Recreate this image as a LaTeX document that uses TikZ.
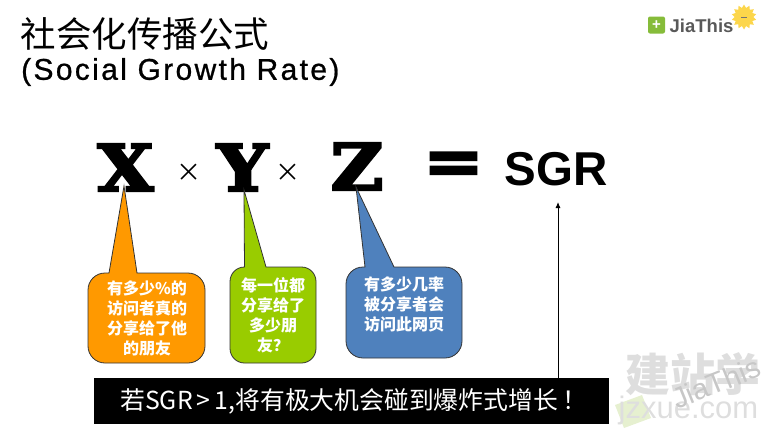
\documentclass[tikz,border=0pt]{standalone}
\usepackage{fontspec}
\setmainfont{Liberation Sans}
\newfontfamily\cjk{Noto Sans CJK SC}
\newfontface\slab[FakeBold=4]{DejaVu Serif Bold}
\newfontface\subhead[FakeBold=0.8,LetterSpace=7.8]{Liberation Sans}
\usepackage{tikz}
\usetikzlibrary{arrows,arrows.meta,shapes.geometric}

\definecolor{calorange}{HTML}{FF9900}
\definecolor{calgreen}{HTML}{99CC00}
\definecolor{calblue}{HTML}{4F81BD}
\definecolor{markgray}{HTML}{DEDEDE}
\definecolor{markleaf}{HTML}{E6F0D0}
\definecolor{plusgreen}{HTML}{86BC3A}

\begin{document}
\begin{tikzpicture}[
  x=1pt,y=-1pt,
  bigvar/.style={inner sep=0pt,xscale=1.12,transform shape,font=\slab\fontsize{64}{64}\selectfont},
  timesign/.style={inner sep=0pt,font=\cjk\fontsize{25}{25}\selectfont},
  bubble/.style={draw=black!80,line width=0.8pt},
  calnote/.style={inner sep=0pt,align=center,text=white,font=\cjk\bfseries\fontsize{16}{20}\selectfont}
]
  \useasboundingbox (0,0) rectangle (771,429);

  % titles
  \node[anchor=west,inner sep=0pt,font=\cjk\fontsize{35.5}{36}\selectfont] (title) at (20.5,34) {社会化传播公式};
  \node[anchor=west,inner sep=0pt,font=\subhead\fontsize{30}{30}\selectfont] (subtitle) at (21,72) {(Social Growth Rate)};

  % formula
  \node[bigvar] (x) at (125.5,167.5) {X};
  \node[timesign] (t1) at (188.5,173) {×};
  \node[bigvar] (y) at (242.5,167.5) {Y};
  \node[timesign] (t2) at (288,173) {×};
  \node[bigvar] (z) at (357,166.5) {Z};
  \node[bigvar] (eq) at (453.5,168) {=};
  \node[inner sep=0pt,font=\bfseries\fontsize{47.5}{47.5}\selectfont] (sgr) at (556,169.5) {SGR};

  % callouts
  \draw[bubble,fill=calorange] (109,273) -- (124,186) -- (137,273)
    -- (188,273) arc (-90:0:17) -- (205,346) arc (0:90:17) -- (105,363) arc (90:180:17)
    -- (88,290) arc (180:270:17) -- cycle;
  \draw[bubble,fill=calgreen] (244.5,267) -- (244,190) -- (266,267)
    -- (301.5,267) arc (-90:0:14.5) -- (316,348.5) arc (0:90:14.5) -- (244.5,363) arc (90:180:14.5)
    -- (230,281.5) arc (180:270:14.5) -- cycle;
  \draw[bubble,fill=calblue] (365,267) -- (356,187) -- (394,267)
    -- (445,267) arc (-90:0:17) -- (462,341) arc (0:90:17) -- (363,358) arc (90:180:17)
    -- (346,284) arc (180:270:17) -- cycle;
  \node[calnote] (n1) at (147,318) {有多少\%的\\访问者真的\\分享给了他\\的朋友};
  \node[calnote] (n2) at (273,315) {每一位都\\分享给了\\多少朋\\友？};
  \node[calnote] (n3) at (404,304) {有多少几率\\被分享者会\\访问此网页};

  % banner
  \node[fill=black,text=white,minimum width=515pt,minimum height=46pt,inner sep=0pt,
    font=\cjk\fontsize{24.8}{24.8}\selectfont] (bar) at (351.5,401) {\hspace*{5pt}若SGR\,>\,1,将有极大机会碰到爆炸式增长\hspace{5pt}！};
  \coordinate (bartop) at (558,378);
  \coordinate (sgrtip) at (558,202);
  \draw[-{Latex[length=6pt,width=5pt]},line width=0.9pt] (bartop) -- (sgrtip);

  % logo
  \node[fill=plusgreen,rounded corners=2pt,minimum size=17pt,inner sep=0pt,text=white,
    font=\bfseries\fontsize{15}{15}\selectfont] (plus) at (656.5,25) {+};
  \node[anchor=west,inner sep=0pt,text=black!65,font=\bfseries\fontsize{18.5}{18.5}\selectfont] (jia) at (669.5,26) {JiaThis};
  \node[star,star points=14,star point ratio=1.35,fill=yellow!60!orange!70,minimum size=25pt,inner sep=0pt] (sun) at (744,17) {};
  \fill[black!55] (741,16.5) rectangle (747,17.5);

  % watermark
  \fill[markleaf] (615,405) -- (642,395) -- (651,418) -- (624,428) -- cycle;
  \node[inner sep=0pt,text=markgray,font=\cjk\bfseries\fontsize{45}{45}\selectfont] (mark) at (693,374) {建站学};
  \node[inner sep=0pt,text=markgray,font=\fontsize{31}{31}\selectfont] (site) at (688.5,410) {jzxue.com};
  \node[inner sep=0pt,text=black!22,rotate=22,font=\fontsize{29}{29}\selectfont] (ghost) at (716,383) {JiaThis};
\end{tikzpicture}
\end{document}
